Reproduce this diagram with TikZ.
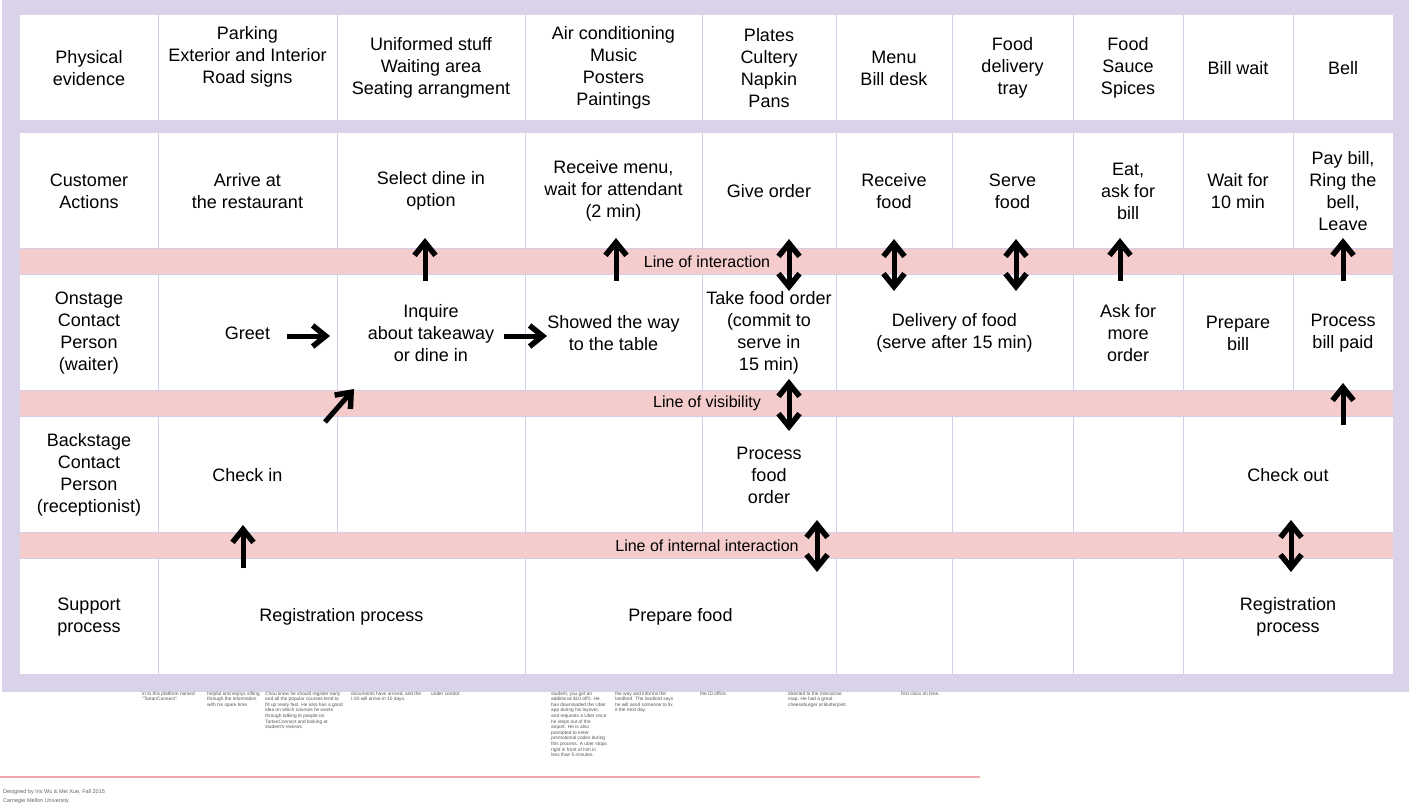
\documentclass[tikz,border=0pt]{standalone}
\usepackage{fontspec}
\setmainfont{Liberation Sans}
\usetikzlibrary{arrows.meta}
\definecolor{lav}{HTML}{D9D2E9}
\definecolor{lavline}{HTML}{D3CDE8}
\definecolor{pinkband}{HTML}{F4CCCC}
\definecolor{smallgrey}{HTML}{555555}
\definecolor{footgrey}{HTML}{666666}
\definecolor{footline}{HTML}{EDA9AD}
\begin{document}
\begin{tikzpicture}[x=1pt,y=-1pt,
  cell/.style={align=center, font=\fontsize{18}{22}\selectfont, inner sep=0pt, text=black},
  bandlabel/.style={font=\fontsize{16}{18}\selectfont, inner sep=0pt, text=black},
  note/.style={anchor=north west, align=left, font=\fontsize{4.8}{5.6}\selectfont, text=smallgrey, inner sep=0pt},
  foot/.style={anchor=north west, align=left, font=\fontsize{5.5}{9}\selectfont, text=footgrey, inner sep=0pt},
  arrowhd/.tip={Straight Barb[length=13pt,width=21pt,line width=5.5pt]},
  arr/.style={line width=5pt, -arrowhd},
  darr/.style={line width=5pt, arrowhd-arrowhd},
  divider/.style={draw=lavline, line width=1pt}]
\useasboundingbox (0,0) rectangle (1409,811);
\fill[white] (0,0) rectangle (1409,811);
% frame and cells
\fill[lav] (2,0) rectangle (1409,692);
\fill[white] (20,15) rectangle (1393,120);
\fill[white] (20,133) rectangle (1393,674);
\fill[pinkband] (20,248) rectangle (1393,274.5);
\fill[pinkband] (20,390) rectangle (1393,416.5);
\fill[pinkband] (20,532) rectangle (1393,558.5);
\foreach \yy in {248,274.5,390,416.5,532,558.5}
  \draw[divider] (20,\yy) -- (1393,\yy);
% vertical dividers
\foreach \xx in {158,337,525,702,836,952,1073,1183,1293}{
  \draw[divider] (\xx,15) -- (\xx,120);
  \draw[divider] (\xx,133) -- (\xx,248);
}
\foreach \xx in {158,337,525,702,836,1073,1183,1293}
  \draw[divider] (\xx,274.5) -- (\xx,390);
\foreach \xx in {158,337,525,702,836,952,1073,1183}
  \draw[divider] (\xx,416.5) -- (\xx,532);
\foreach \xx in {158,525,836,952,1073,1183}
  \draw[divider] (\xx,558.5) -- (\xx,674);
% row 1: physical evidence
\node[cell] (pe0) at (89,68) {Physical\\evidence};
\node[cell] (pe1) at (247.5,57) {Parking\\Exterior and Interior\\Road signs};
\node[cell] (pe2) at (431,68) {Uniformed stuff\\Waiting area\\Seating arrangment};
\node[cell] (pe3) at (613.5,68) {Air conditioning\\Music\\Posters\\Paintings};
\node[cell] (pe4) at (769,68) {Plates\\Cultery\\Napkin\\Pans};
\node[cell] (pe5) at (894,68) {Menu\\Bill desk};
\node[cell] (pe6) at (1012.5,68) {Food\\delivery\\tray};
\node[cell] (pe7) at (1128,68) {Food\\Sauce\\Spices};
\node[cell] (pe8) at (1238,68) {Bill wait};
\node[cell] (pe9) at (1343,68) {Bell};
% row 2: customer actions
\node[cell] (ca0) at (89,191) {Customer\\Actions};
\node[cell] (ca1) at (247.5,191) {Arrive at\\the restaurant};
\node[cell] (ca2) at (431,191) {Select dine in\\option};
\node[cell] (ca3) at (613.5,191) {Receive menu,\\wait for attendant\\(2 min)};
\node[cell] (ca4) at (769,191) {Give order};
\node[cell] (ca5) at (894,191) {Receive\\food};
\node[cell] (ca6) at (1012.5,191) {Serve\\food};
\node[cell] (ca7) at (1128,191) {Eat,\\ask for\\bill};
\node[cell] (ca8) at (1238,191) {Wait for\\10 min};
\node[cell] (ca9) at (1343,191) {Pay bill,\\Ring the\\bell,\\Leave};
% row 3: onstage
\node[cell] (on0) at (89,333) {Onstage\\Contact\\Person\\(waiter)};
\node[cell] (on1) at (247.5,333) {Greet};
\node[cell] (on2) at (431,333) {Inquire\\about takeaway\\or dine in};
\node[cell] (on3) at (613.5,333) {Showed the way\\to the table};
\node[cell] (on4) at (769,333) {Take food order\\(commit to\\serve in\\15 min)};
\node[cell] (on5) at (954.5,333) {Delivery of food\\(serve after 15 min)};
\node[cell] (on7) at (1128,333) {Ask for\\more\\order};
\node[cell] (on8) at (1238,333) {Prepare\\bill};
\node[cell] (on9) at (1343,333) {Process\\bill paid};
% row 4: backstage
\node[cell] (bs0) at (89,475) {Backstage\\Contact\\Person\\(receptionist)};
\node[cell] (bs1) at (247.5,475) {Check in};
\node[cell] (bs4) at (769,475) {Process\\food\\order};
\node[cell] (bs8) at (1288,475) {Check out};
% row 5: support
\node[cell] (sp0) at (89,617) {Support\\process};
\node[cell] (sp1) at (341.5,617) {Registration process};
\node[cell] (sp3) at (680.5,617) {Prepare food};
\node[cell] (sp8) at (1288,617) {Registration\\process};
% band labels
\node[bandlabel] (loi) at (707,261.5) {Line of interaction};
\node[bandlabel] (lov) at (707,403.5) {Line of visibility};
\node[bandlabel] (lii) at (707,545.5) {Line of internal interaction};
% arrow end points
\coordinate (u1s) at (425,281); \coordinate (u1e) at (425,238);
\coordinate (u2s) at (616,281); \coordinate (u2e) at (616,238);
\coordinate (u3s) at (1120,281); \coordinate (u3e) at (1120,238);
\coordinate (u4s) at (1343,281); \coordinate (u4e) at (1343,238);
\coordinate (d1s) at (789,291); \coordinate (d1e) at (789,239);
\coordinate (d2s) at (894,291); \coordinate (d2e) at (894,239);
\coordinate (d3s) at (1016,291); \coordinate (d3e) at (1016,239);
\coordinate (r1s) at (287,336); \coordinate (r1e) at (330,336);
\coordinate (r2s) at (504,336); \coordinate (r2e) at (547,336);
\coordinate (g1s) at (325,422); \coordinate (g1e) at (354,389);
\coordinate (d4s) at (789,431); \coordinate (d4e) at (789,379);
\coordinate (u5s) at (1343,425); \coordinate (u5e) at (1343,383);
\coordinate (u6s) at (243,568); \coordinate (u6e) at (243,525);
\coordinate (d5s) at (817,572); \coordinate (d5e) at (817,520);
\coordinate (d6s) at (1291,572); \coordinate (d6e) at (1291,520);
% arrows
\foreach \a in {u1,u2,u3,u4,u5,u6,r1,r2,g1}
  \draw[arr] (\a s) -- (\a e);
\foreach \a in {d1,d2,d3,d4,d5,d6}
  \draw[darr] (\a s) -- (\a e);
% notes below the frame
\node[note] (n1) at (142,691.5) {in to this platform named\\``TartanConnect''.};
\node[note] (n2) at (207,691.5) {helpful and enjoys sifting\\through the information\\with his spare time.};
\node[note] (n3) at (265,691.5) {Chou knew he should register early\\and all the popular courses tend to\\fill up really fast. He also has a good\\idea on which courses he wants\\through talking to people on\\TartanConnect and looking at\\student's reviews};
\node[note] (n4) at (351,691.5) {documents have arrived, and the\\I-20 will arrive in 10 days.};
\node[note] (n5) at (431,691.5) {under control.};
\node[note] (n6) at (551,691.5) {student, you get an\\additional \$10 off!). He\\has downloaded the Uber\\app during his layover,\\and requests a Uber once\\he steps out of the\\airport. He is also\\prompted to enter\\promotional codes during\\this process. A uber stops\\right in front of him in\\less than 5 minutes.};
\node[note] (n7) at (615,691.5) {the way and informs the\\landlord. The landlord says\\he will send someone to fix\\it the next day.};
\node[note] (n8) at (700,691.5) {the ID office.};
\node[note] (n9) at (788,691.5) {directed to the interactive\\map. He had a great\\cheeseburger at Butterjoint.};
\node[note] (n10) at (901,691.5) {first class on time.};
% footer
\coordinate (fl1) at (0,777); \coordinate (fl2) at (980,777);
\draw[footline, line width=1.2pt] (fl1) -- (fl2);
\node[foot] (credit) at (3,789) {Designed by Iris Wu \& Mei Xue, Fall 2015\\Carnegie Mellon University};
\end{tikzpicture}
\end{document}
